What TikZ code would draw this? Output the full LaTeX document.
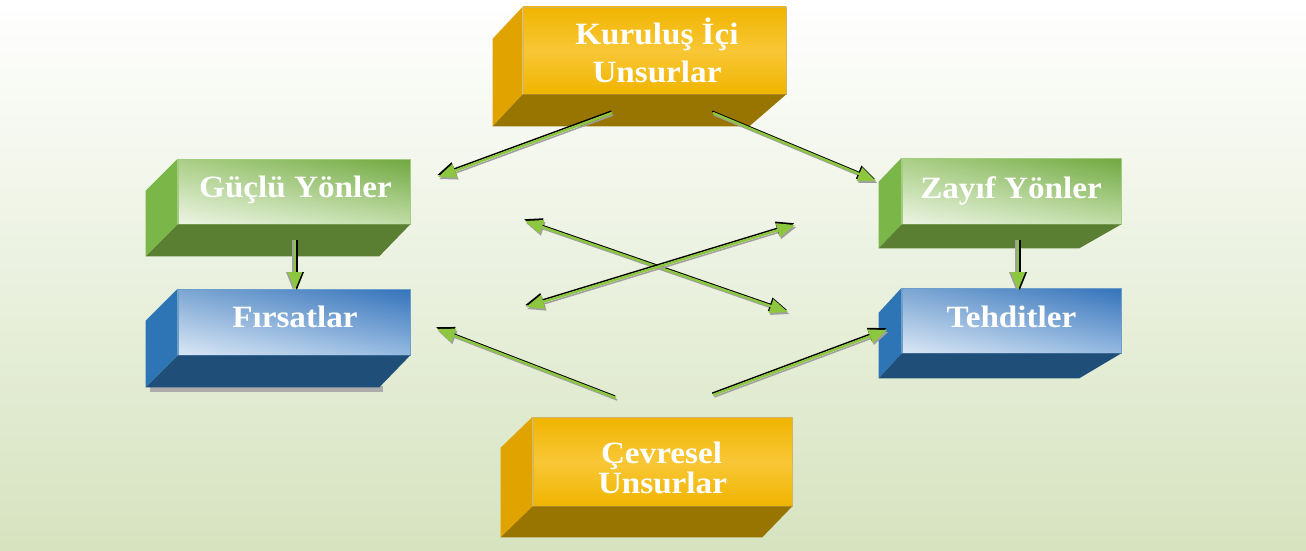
\documentclass[tikz,border=0pt]{standalone}
\usepackage{fontspec}
\setmainfont{Liberation Serif}[FakeStretch=1.07]
\usetikzlibrary{arrows.meta,calc,shadings}
\definecolor{bgbot}{HTML}{D6E3BF}
\definecolor{bgmid}{HTML}{EEF3E4}
\definecolor{goldF}{HTML}{F0B400}
\definecolor{goldL}{HTML}{F8C736}
\definecolor{goldS}{HTML}{E0A300}
\definecolor{goldB}{HTML}{987400}
\definecolor{grnS}{HTML}{7AB648}
\definecolor{grnB}{HTML}{5A7E32}
\definecolor{bluS}{HTML}{2E75B6}
\definecolor{bluB}{HTML}{1F4E79}
\definecolor{arrG}{HTML}{8DC63F}
\tikzset{
  x=1pt, y=-1pt,
  >={Triangle[length=18pt,width=14pt]},
  lbl/.style={text=white, font=\fontsize{31}{36}\selectfont\bfseries, inner sep=0pt, anchor=base},
  goldface/.style={draw=goldS!80!black!60, line width=0.6pt, inner sep=0pt, top color=goldF, bottom color=goldF, middle color=goldL},
  grnface/.style={draw=grnS!70, line width=0.6pt, inner sep=0pt, upper left={rgb,255:red,170;green,207;blue,134}, upper right={rgb,255:red,112;green,168;blue,64}, lower left={rgb,255:red,236;green,244;blue,228}, lower right={rgb,255:red,192;green,221;blue,166}},
  bluface/.style={draw=bluS!70, line width=0.6pt, inner sep=0pt, upper left={rgb,255:red,124;green,166;blue,211}, upper right={rgb,255:red,52;green,115;blue,186}, lower left={rgb,255:red,218;green,231;blue,245}, lower right={rgb,255:red,148;green,185;blue,225}},
  arrgreen/.style={draw=arrG, line width=2.4pt},
  arrblack/.style={draw=black, line width=1.5pt},
  arrshadow/.style={draw=gray!75, line width=1.5pt}
}
% #1 tips, #2 black shift, #3 shadow shift, #4 from, #5 to
\newcommand{\garr}[5]{%
  \draw[arrshadow,#1,transform canvas={shift={#3}}] (#4) -- (#5);
  \draw[arrblack,#1,transform canvas={shift={#2}}] (#4) -- (#5);
  \draw[arrgreen,#1] (#4) -- (#5);}
% #1 node, #2 side colour, #3 bottom colour, #4 left depth, #5 right depth
\newcommand{\sides}[5]{%
  \fill[#2] (#1.north west) -- (#1.south west) -- ($(#1.south west)+#4$) -- ($(#1.north west)+#4$) -- cycle;
  \fill[#3] (#1.south west) -- (#1.south east) -- ($(#1.south east)+#5$) -- ($(#1.south west)+#4$) -- cycle;}
\begin{document}
\begin{tikzpicture}
\shade[top color=white, middle color=bgmid, bottom color=bgbot] (0,0) rectangle (1306,551);
\useasboundingbox (0,0) rectangle (1306,551);

% shadow below Firsatlar
\fill[gray!65] (150,386) rectangle (383,392);

% front faces
\node[goldface, minimum width=263pt, minimum height=87pt] (kur) at (654.5,50.5) {};
\node[grnface, minimum width=232pt, minimum height=65pt] (guc) at (294,191.5) {};
\node[bluface, minimum width=232pt, minimum height=66pt] (fir) at (294,322) {};
\node[grnface, minimum width=219pt, minimum height=66pt] (zay) at (1011.5,191) {};
\node[bluface, minimum width=219pt, minimum height=65pt] (teh) at (1011.5,320.5) {};
\node[goldface, minimum width=259pt, minimum height=89pt] (cev) at (662.5,461.5) {};

% side and bottom faces
\sides{kur}{goldS}{goldB}{(-30,32)}{(-37,32)}
\sides{guc}{grnS}{grnB}{(-32,32)}{(-31,32)}
\sides{fir}{bluS}{bluB}{(-32,32)}{(-31,32)}
\sides{zay}{grnS}{grnB}{(-23,24)}{(-42,24)}
\sides{teh}{bluS}{bluB}{(-23,25)}{(-42,25)}
\sides{cev}{goldS}{goldB}{(-32,31)}{(-30,31)}

% labels
\node[lbl] (kurA) at (657,45) {Kuruluş İçi};
\node[lbl] (kurB) at (657,82) {Unsurlar};
\node[lbl] (gucT) at (295.5,197) {Güçlü Yönler};
\node[lbl] (firT) at (295,327) {Fırsatlar};
\node[lbl] (zayT) at (1011,198) {Zayıf Yönler};
\node[lbl] (tehT) at (1011.5,327) {Tehditler};
\node[lbl] (cevA) at (661.5,463) {Çevresel};
\node[lbl] (cevB) at (662.5,493) {Unsurlar};

% connector end points
\coordinate (a1s) at (612,113);  \coordinate (a1e) at (438,177);
\coordinate (a2s) at (713,113);  \coordinate (a2e) at (876,181);
\coordinate (a3s) at (525,221);  \coordinate (a3e) at (788,312);
\coordinate (a4s) at (526,307);  \coordinate (a4e) at (795,225);
\coordinate (a5s) at (616,398);  \coordinate (a5e) at (437,329);
\coordinate (a6s) at (713,395);  \coordinate (a6e) at (887,330);
\coordinate (a7s) at (295,240);  \coordinate (a7e) at (295,290);
\coordinate (a8s) at (1018,240); \coordinate (a8e) at (1018,290);

% connectors
\garr{->}{(-0.8,-1.8)}{(1.2,2)}{a1s}{a1e}
\garr{->}{(-0.8,-1.8)}{(1.2,2)}{a2s}{a2e}
\garr{<->}{(-0.8,-1.8)}{(1.2,2)}{a3s}{a3e}
\garr{<->}{(-0.8,-1.8)}{(1.2,2)}{a4s}{a4e}
\garr{->}{(-0.8,-1.8)}{(1.2,2)}{a5s}{a5e}
\garr{->}{(-0.8,-1.8)}{(1.2,2)}{a6s}{a6e}
\garr{->}{(1.8,0)}{(-1.8,0)}{a7s}{a7e}
\garr{->}{(1.8,0)}{(-1.8,0)}{a8s}{a8e}
\end{tikzpicture}
\end{document}
